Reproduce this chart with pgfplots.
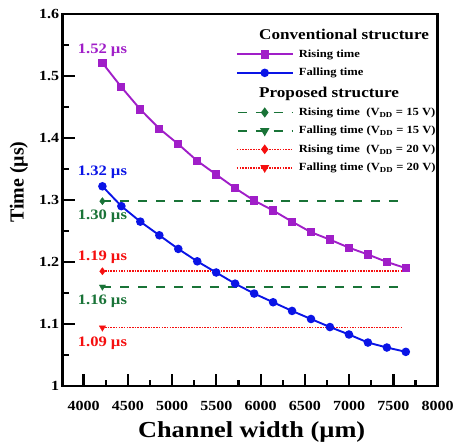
\documentclass[border=0pt]{standalone}
\usepackage{fontspec}
\setmainfont{Liberation Serif}[FakeStretch=1.15]
\newfontfamily\ylabfont{Liberation Serif}
\usepackage{pgfplots}
\pgfplotsset{compat=1.18}
\definecolor{cpurple}{RGB}{160,30,200}
\definecolor{cblue}{RGB}{10,20,230}
\definecolor{cgreen}{RGB}{25,115,55}
\definecolor{cred}{RGB}{245,15,15}
\begin{document}
\begin{tikzpicture}
\begin{axis}[
  scale only axis, width=377pt, height=374pt,
  xmin=3764, xmax=8000, ymin=1, ymax=1.6,
  xtick={4000,4500,5000,5500,6000,6500,7000,7500,8000}, minor x tick num=1,
  ytick={1,1.1,1.2,1.3,1.4,1.5,1.6}, minor y tick num=1,
  tick pos=left, tick align=inside,
  major tick length=12pt, minor tick length=6pt,
  tick style={line width=2.2pt, black},
  axis line style={line width=2.5pt},
  /pgf/number format/assume math mode=true,
  tick label style={font=\fontsize{14}{16}\selectfont\bfseries},
  x tick label style={/pgf/number format/set thousands separator={}, yshift=-12pt},
  y tick label style={/pgf/number format/fixed, /pgf/number format/precision=1},
  xlabel={Channel width (µm)},
  xlabel style={at={(axis description cs:0.504,-0.123)}, anchor=center, font=\fontsize{23}{26}\selectfont\bfseries},
  ylabel={Time (µs)},
  ylabel style={at={(axis description cs:-0.117,0.548)}, anchor=center, font=\ylabfont\fontsize{20}{24}\selectfont\bfseries},
  legend style={at={(axis description cs:0.4615,0.970)}, anchor=north west, draw=none, fill=none,
    font=\fontsize{11}{13}\selectfont\bfseries, cells={anchor=west}, inner sep=0pt,
    nodes={inner sep=3.4pt}, column sep=2pt, row sep=2.6pt},
  legend image code/.code={\draw[mark repeat=2,mark phase=2] plot coordinates {(0pt,0pt) (28pt,0pt) (56pt,0pt)};},
]
\addlegendimage{empty legend}
\addlegendentry{\hspace*{-40pt}\fontsize{15}{17}\selectfont Conventional structure}
\addplot[cpurple, line width=1.9pt, mark=square*, mark size=3.2pt] coordinates {
 (4213,1.521) (4427,1.482) (4641,1.446) (4856,1.415) (5070,1.390) (5284,1.363)
 (5498,1.341) (5712,1.319) (5927,1.299) (6141,1.283) (6355,1.265) (6569,1.248)
 (6783,1.236) (6998,1.223) (7212,1.212) (7426,1.200) (7640,1.190)};
\addlegendentry{Rising time}
\addplot[cblue, line width=1.9pt, mark=*, mark size=3.3pt] coordinates {
 (4213,1.322) (4427,1.290) (4641,1.265) (4856,1.243) (5070,1.221) (5284,1.201)
 (5498,1.183) (5712,1.165) (5927,1.149) (6141,1.135) (6355,1.121) (6569,1.108)
 (6783,1.095) (6998,1.083) (7212,1.070) (7426,1.062) (7640,1.055)};
\addlegendentry{Falling time}
\addlegendimage{empty legend}
\addlegendentry{\hspace*{-40pt}\fontsize{15}{17}\selectfont Proposed structure}
\addlegendimage{cgreen, line width=1.9pt, dash pattern=on 9pt off 9pt, dash phase=-1pt, mark=diamond*, mark size=3.6pt, mark options={solid}}
\addlegendentry{Rising time\ \ (V\textsubscript{DD} = 15 V)}
\addlegendimage{cgreen, line width=1.9pt, dash pattern=on 9pt off 9pt, dash phase=-1pt, mark=triangle*, mark size=3.6pt, mark options={solid, rotate=180}}
\addlegendentry{Falling time (V\textsubscript{DD} = 15 V)}
\addlegendimage{cred, line width=1.6pt, dash pattern=on 1.6pt off 1.1pt, mark=diamond*, mark size=3.6pt, mark options={solid}}
\addlegendentry{Rising time\ \ (V\textsubscript{DD} = 20 V)}
\addlegendimage{cred, line width=1.6pt, dash pattern=on 1.6pt off 1.1pt, mark=triangle*, mark size=3.6pt, mark options={solid, rotate=180}}
\addlegendentry{Falling time (V\textsubscript{DD} = 20 V)}
% proposed lines
\addplot[forget plot, cgreen, line width=1.9pt, dash pattern=on 9pt off 9pt] coordinates {(4213,1.298) (7610,1.298)};
\addplot[forget plot, cgreen, line width=1.9pt, dash pattern=on 9pt off 9pt] coordinates {(4213,1.160) (7610,1.160)};
\addplot[forget plot, cred, line width=1.6pt, dash pattern=on 1.6pt off 1.1pt] coordinates {(4213,1.185) (7610,1.185)};
\addplot[forget plot, cred, line width=1.6pt, dash pattern=on 1.6pt off 1.1pt] coordinates {(4213,1.094) (7610,1.094)};
\addplot[forget plot, only marks, cgreen, mark=diamond*, mark size=3.6pt] coordinates {(4213,1.298)};
\addplot[forget plot, only marks, cgreen, mark=triangle*, mark size=3.6pt, mark options={rotate=180}] coordinates {(4213,1.160)};
\addplot[forget plot, only marks, cred, mark=diamond*, mark size=3.6pt] coordinates {(4213,1.185)};
\addplot[forget plot, only marks, cred, mark=triangle*, mark size=3.6pt, mark options={rotate=180}] coordinates {(4213,1.094)};
% annotations
\begin{scope}[every node/.style={font=\fontsize{14.5}{16}\selectfont\bfseries, anchor=center}]
\node[text=cpurple] at (axis cs:4213,1.542) {1.52 µs};
\node[text=cblue] at (axis cs:4213,1.345) {1.32 µs};
\node[text=cgreen] at (axis cs:4213,1.273) {1.30 µs};
\node[text=cred] at (axis cs:4213,1.207) {1.19 µs};
\node[text=cgreen] at (axis cs:4213,1.136) {1.16 µs};
\node[text=cred] at (axis cs:4213,1.069) {1.09 µs};
\end{scope}
\end{axis}
\path (-63pt,-58pt) rectangle (394pt,388pt);
\end{tikzpicture}
\end{document}
